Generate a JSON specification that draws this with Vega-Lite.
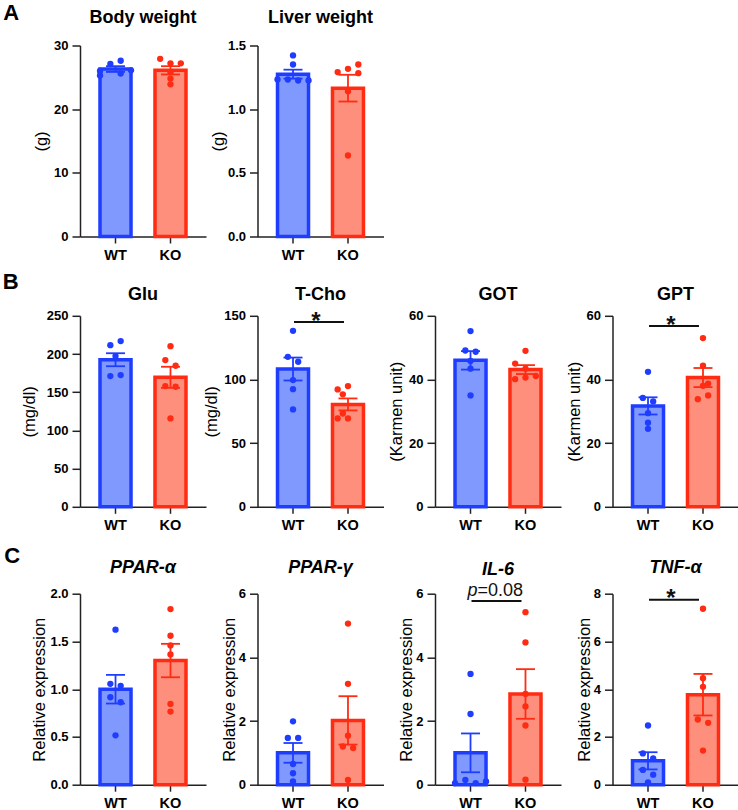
{
"$schema":"https://vega.github.io/schema/vega-lite/v6.json",
"background":"white",
"padding":{"left":2,"top":1.5,"right":0,"bottom":0},
"datasets":{
"sum":[
{"p":"bw","g":"WT","m":26.3,"lo":25.85,"hi":26.75},
{"p":"bw","g":"KO","m":26.1,"lo":25.45,"hi":26.75},
{"p":"lw","g":"WT","m":1.275,"lo":1.24,"hi":1.31},
{"p":"lw","g":"KO","m":1.165,"lo":1.06,"hi":1.27},
{"p":"glu","g":"WT","m":192.5,"lo":184,"hi":201},
{"p":"glu","g":"KO","m":169.5,"lo":155.7,"hi":183.3},
{"p":"tcho","g":"WT","m":108.2,"lo":99.2,"hi":117.2},
{"p":"tcho","g":"KO","m":80.4,"lo":75.7,"hi":85.1},
{"p":"got","g":"WT","m":46.0,"lo":43.1,"hi":48.9},
{"p":"got","g":"KO","m":43.1,"lo":41.7,"hi":44.5},
{"p":"gpt","g":"WT","m":31.7,"lo":29.0,"hi":34.4},
{"p":"gpt","g":"KO","m":40.6,"lo":37.6,"hi":43.6},
{"p":"ppara","g":"WT","m":1.0,"lo":0.85,"hi":1.15},
{"p":"ppara","g":"KO","m":1.3,"lo":1.125,"hi":1.475},
{"p":"pparg","g":"WT","m":1.0,"lo":0.69,"hi":1.31},
{"p":"pparg","g":"KO","m":2.02,"lo":1.26,"hi":2.78},
{"p":"il6","g":"WT","m":1.0,"lo":0.39,"hi":1.61},
{"p":"il6","g":"KO","m":2.85,"lo":2.07,"hi":3.63},
{"p":"tnf","g":"WT","m":1.0,"lo":0.64,"hi":1.36},
{"p":"tnf","g":"KO","m":3.77,"lo":2.9,"hi":4.64}
],
"pts":[
{"p":"bw","g":"WT","v":26.0,"l":-3},{"p":"bw","g":"WT","v":25.3,"l":-3},{"p":"bw","g":"WT","v":27.1,"l":-1},{"p":"bw","g":"WT","v":27.6,"l":1},{"p":"bw","g":"WT","v":25.6,"l":1},{"p":"bw","g":"WT","v":26.1,"l":3},
{"p":"bw","g":"KO","v":27.9,"l":-2},{"p":"bw","g":"KO","v":27.2,"l":0},{"p":"bw","g":"KO","v":27.2,"l":2},{"p":"bw","g":"KO","v":25.8,"l":0},{"p":"bw","g":"KO","v":24.8,"l":0},{"p":"bw","g":"KO","v":23.9,"l":0},
{"p":"lw","g":"WT","v":1.422,"l":0},{"p":"lw","g":"WT","v":1.351,"l":0},{"p":"lw","g":"WT","v":1.233,"l":-3},{"p":"lw","g":"WT","v":1.233,"l":-1},{"p":"lw","g":"WT","v":1.225,"l":1},{"p":"lw","g":"WT","v":1.225,"l":3},
{"p":"lw","g":"KO","v":1.291,"l":-2},{"p":"lw","g":"KO","v":1.317,"l":0},{"p":"lw","g":"KO","v":1.283,"l":2},{"p":"lw","g":"KO","v":1.351,"l":2},{"p":"lw","g":"KO","v":1.141,"l":0},{"p":"lw","g":"KO","v":0.636,"l":0},
{"p":"glu","g":"WT","v":211.6,"l":-1},{"p":"glu","g":"WT","v":216.9,"l":1},{"p":"glu","g":"WT","v":197.3,"l":0},{"p":"glu","g":"WT","v":171.1,"l":-1},{"p":"glu","g":"WT","v":172.4,"l":1},
{"p":"glu","g":"KO","v":210.3,"l":0},{"p":"glu","g":"KO","v":192.0,"l":-1},{"p":"glu","g":"KO","v":184.6,"l":1},{"p":"glu","g":"KO","v":158.0,"l":-1},{"p":"glu","g":"KO","v":157.1,"l":1},{"p":"glu","g":"KO","v":115.7,"l":0},
{"p":"tcho","g":"WT","v":138.2,"l":0},{"p":"tcho","g":"WT","v":117.8,"l":-1},{"p":"tcho","g":"WT","v":113.9,"l":1},{"p":"tcho","g":"WT","v":99.5,"l":0},{"p":"tcho","g":"WT","v":92.4,"l":0},{"p":"tcho","g":"WT","v":76.5,"l":0},
{"p":"tcho","g":"KO","v":92.2,"l":-2},{"p":"tcho","g":"KO","v":94.8,"l":0},{"p":"tcho","g":"KO","v":88.3,"l":-1},{"p":"tcho","g":"KO","v":69.4,"l":-2},{"p":"tcho","g":"KO","v":69.4,"l":0},{"p":"tcho","g":"KO","v":73.3,"l":-1},
{"p":"got","g":"WT","v":55.2,"l":0},{"p":"got","g":"WT","v":49.1,"l":-1},{"p":"got","g":"WT","v":48.7,"l":1},{"p":"got","g":"WT","v":45.8,"l":0},{"p":"got","g":"WT","v":43.4,"l":0},{"p":"got","g":"WT","v":35.0,"l":0},
{"p":"got","g":"KO","v":49.0,"l":0},{"p":"got","g":"KO","v":45.0,"l":-2},{"p":"got","g":"KO","v":43.4,"l":0},{"p":"got","g":"KO","v":40.1,"l":-2},{"p":"got","g":"KO","v":40.6,"l":0},{"p":"got","g":"KO","v":41.1,"l":2},
{"p":"gpt","g":"WT","v":42.4,"l":0},{"p":"gpt","g":"WT","v":34.2,"l":-1},{"p":"gpt","g":"WT","v":33.1,"l":1},{"p":"gpt","g":"WT","v":29.4,"l":0},{"p":"gpt","g":"WT","v":26.4,"l":0},{"p":"gpt","g":"WT","v":24.5,"l":0},
{"p":"gpt","g":"KO","v":53.0,"l":0},{"p":"gpt","g":"KO","v":44.3,"l":0},{"p":"gpt","g":"KO","v":38.7,"l":1},{"p":"gpt","g":"KO","v":35.0,"l":1},{"p":"gpt","g":"KO","v":33.8,"l":-1},{"p":"gpt","g":"KO","v":38.0,"l":0},
{"p":"ppara","g":"WT","v":1.623,"l":0},{"p":"ppara","g":"WT","v":1.056,"l":-1},{"p":"ppara","g":"WT","v":1.035,"l":1},{"p":"ppara","g":"WT","v":0.916,"l":-1},{"p":"ppara","g":"WT","v":0.863,"l":1},{"p":"ppara","g":"WT","v":0.517,"l":0},
{"p":"ppara","g":"KO","v":1.839,"l":0},{"p":"ppara","g":"KO","v":1.56,"l":0},{"p":"ppara","g":"KO","v":1.458,"l":0},{"p":"ppara","g":"KO","v":1.364,"l":0},{"p":"ppara","g":"KO","v":0.846,"l":0},{"p":"ppara","g":"KO","v":0.766,"l":0},
{"p":"pparg","g":"WT","v":1.99,"l":0},{"p":"pparg","g":"WT","v":1.47,"l":-1},{"p":"pparg","g":"WT","v":1.47,"l":1},{"p":"pparg","g":"WT","v":0.65,"l":0},{"p":"pparg","g":"WT","v":0.36,"l":0},{"p":"pparg","g":"WT","v":0.105,"l":0},
{"p":"pparg","g":"KO","v":5.06,"l":0},{"p":"pparg","g":"KO","v":3.17,"l":0},{"p":"pparg","g":"KO","v":1.54,"l":0},{"p":"pparg","g":"KO","v":1.2,"l":-1},{"p":"pparg","g":"KO","v":1.15,"l":1},{"p":"pparg","g":"KO","v":0.147,"l":0},
{"p":"il6","g":"WT","v":3.48,"l":0},{"p":"il6","g":"WT","v":2.22,"l":0},{"p":"il6","g":"WT","v":0.05,"l":-3},{"p":"il6","g":"WT","v":0.15,"l":-1},{"p":"il6","g":"WT","v":0.05,"l":1},{"p":"il6","g":"WT","v":0.1,"l":3},
{"p":"il6","g":"KO","v":5.42,"l":0},{"p":"il6","g":"KO","v":4.47,"l":0},{"p":"il6","g":"KO","v":2.85,"l":0},{"p":"il6","g":"KO","v":2.46,"l":0},{"p":"il6","g":"KO","v":1.86,"l":0},{"p":"il6","g":"KO","v":0.157,"l":0},
{"p":"tnf","g":"WT","v":2.48,"l":0},{"p":"tnf","g":"WT","v":1.31,"l":-1},{"p":"tnf","g":"WT","v":1.1,"l":1},{"p":"tnf","g":"WT","v":0.62,"l":-1},{"p":"tnf","g":"WT","v":0.42,"l":1},{"p":"tnf","g":"WT","v":0.1,"l":0},
{"p":"tnf","g":"KO","v":7.37,"l":0},{"p":"tnf","g":"KO","v":4.46,"l":0},{"p":"tnf","g":"KO","v":4.1,"l":0},{"p":"tnf","g":"KO","v":2.73,"l":-1},{"p":"tnf","g":"KO","v":2.59,"l":1},{"p":"tnf","g":"KO","v":1.43,"l":0}
],
"sig":[
{"p":"tcho","a":"WT","b":"KO","y":145.1,"t":"*"},
{"p":"gpt","a":"WT","b":"KO","y":56.8,"t":"*"},
{"p":"tnf","a":"WT","b":"KO","y":7.75,"t":"*"},
{"p":"il6","a":"WT","b":"KO","y":5.77,"t":"=0.08"}
]
},
"spacing":9.3,
"resolve":{"scale":{"x":"independent","y":"independent"}},
"vconcat":[
{"hconcat":[
{"width":126,"height":191,"title":{"text":"Body weight","offset":13},
"resolve":{"scale":{"xOffset":"independent"}},
"encoding":{"x":{"field":"g","type":"nominal","title":null,"scale":{"domain":["WT","KO"],"paddingInner":0.436,"paddingOuter":0.364},"axis":{"labelAngle":0}},"color":{"field":"g","type":"nominal","scale":{"domain":["WT","KO"],"range":["#1f3dff","#ff2b12"]},"legend":null}},
"layer":[
{"data":{"name":"sum"},"transform":[{"filter":"datum.p==='bw'"}],"mark":{"type":"bar","strokeWidth":3.5,"strokeJoin":"miter","opacity":1},"encoding":{"y":{"field":"m","type":"quantitative","title":"(g)","scale":{"domain":[0,30],"nice":false},"axis":{"values":[0,10,20,30],"labelOverlap":false}},"fill":{"field":"g","type":"nominal","scale":{"domain":["WT","KO"],"range":["#8099ff","#ff8f7d"]},"legend":null},"stroke":{"field":"g","type":"nominal","scale":{"domain":["WT","KO"],"range":["#1f3dff","#ff2b12"]},"legend":null}}},
{"data":{"name":"sum"},"transform":[{"filter":"datum.p==='bw'"}],"mark":{"type":"rule","strokeWidth":1.8},"encoding":{"y":{"field":"lo","type":"quantitative","title":"(g)"},"y2":{"field":"hi"}}},
{"data":{"name":"sum"},"transform":[{"filter":"datum.p==='bw'"}],"mark":{"type":"tick","size":19,"thickness":1.8,"opacity":1},"encoding":{"y":{"field":"lo","type":"quantitative","title":"(g)"}}},
{"data":{"name":"sum"},"transform":[{"filter":"datum.p==='bw'"}],"mark":{"type":"tick","size":19,"thickness":1.8,"opacity":1},"encoding":{"y":{"field":"hi","type":"quantitative","title":"(g)"}}},
{"data":{"name":"pts"},"transform":[{"filter":"datum.p==='bw'"}],"mark":{"type":"point","filled":true,"size":40,"opacity":1},"encoding":{"xOffset":{"field":"l","type":"quantitative","scale":{"domain":[-3,3]}},"y":{"field":"v","type":"quantitative","title":"(g)"}}}
]},
{"width":126,"height":191,"title":{"text":"Liver weight","offset":13},
"resolve":{"scale":{"xOffset":"independent"}},
"encoding":{"x":{"field":"g","type":"nominal","title":null,"scale":{"domain":["WT","KO"],"paddingInner":0.436,"paddingOuter":0.364},"axis":{"labelAngle":0}},"color":{"field":"g","type":"nominal","scale":{"domain":["WT","KO"],"range":["#1f3dff","#ff2b12"]},"legend":null}},
"layer":[
{"data":{"name":"sum"},"transform":[{"filter":"datum.p==='lw'"}],"mark":{"type":"bar","strokeWidth":3.5,"strokeJoin":"miter","opacity":1},"encoding":{"y":{"field":"m","type":"quantitative","title":"(g)","scale":{"domain":[0,1.5],"nice":false},"axis":{"values":[0,0.5,1,1.5],"format":".1f","titlePadding":0.7,"labelOverlap":false}},"fill":{"field":"g","type":"nominal","scale":{"domain":["WT","KO"],"range":["#8099ff","#ff8f7d"]},"legend":null},"stroke":{"field":"g","type":"nominal","scale":{"domain":["WT","KO"],"range":["#1f3dff","#ff2b12"]},"legend":null}}},
{"data":{"name":"sum"},"transform":[{"filter":"datum.p==='lw'"}],"mark":{"type":"rule","strokeWidth":1.8},"encoding":{"y":{"field":"lo","type":"quantitative","title":"(g)"},"y2":{"field":"hi"}}},
{"data":{"name":"sum"},"transform":[{"filter":"datum.p==='lw'"}],"mark":{"type":"tick","size":19,"thickness":1.8,"opacity":1},"encoding":{"y":{"field":"lo","type":"quantitative","title":"(g)"}}},
{"data":{"name":"sum"},"transform":[{"filter":"datum.p==='lw'"}],"mark":{"type":"tick","size":19,"thickness":1.8,"opacity":1},"encoding":{"y":{"field":"hi","type":"quantitative","title":"(g)"}}},
{"data":{"name":"pts"},"transform":[{"filter":"datum.p==='lw'"}],"mark":{"type":"point","filled":true,"size":40,"opacity":1},"encoding":{"xOffset":{"field":"l","type":"quantitative","scale":{"domain":[-3,3]}},"y":{"field":"v","type":"quantitative","title":"(g)"}}}
]}
],
"spacing":51.5,"bounds":"flush",
"resolve":{"scale":{"x":"independent","y":"independent"}},
"title":{"text":"A","anchor":"start","frame":"group","offset":-16.5,"dx":-76.8,"fontSize":22}
},
{"vconcat":[
{"hconcat":[
{"width":126,"height":191,"title":{"text":"Glu","offset":5.5},
"resolve":{"scale":{"xOffset":"independent"}},
"encoding":{"x":{"field":"g","type":"nominal","title":null,"scale":{"domain":["WT","KO"],"paddingInner":0.436,"paddingOuter":0.364},"axis":{"labelAngle":0}},"color":{"field":"g","type":"nominal","scale":{"domain":["WT","KO"],"range":["#1f3dff","#ff2b12"]},"legend":null}},
"layer":[
{"data":{"name":"sum"},"transform":[{"filter":"datum.p==='glu'"}],"mark":{"type":"bar","strokeWidth":3.5,"strokeJoin":"miter","opacity":1},"encoding":{"y":{"field":"m","type":"quantitative","title":"(mg/dl)","scale":{"domain":[0,250],"nice":false},"axis":{"values":[0,50,100,150,200,250],"tickCount":6,"titlePadding":8.5,"labelOverlap":false,"labelSeparation":-100}},"fill":{"field":"g","type":"nominal","scale":{"domain":["WT","KO"],"range":["#8099ff","#ff8f7d"]},"legend":null},"stroke":{"field":"g","type":"nominal","scale":{"domain":["WT","KO"],"range":["#1f3dff","#ff2b12"]},"legend":null}}},
{"data":{"name":"sum"},"transform":[{"filter":"datum.p==='glu'"}],"mark":{"type":"rule","strokeWidth":1.8},"encoding":{"y":{"field":"lo","type":"quantitative","title":"(mg/dl)"},"y2":{"field":"hi"}}},
{"data":{"name":"sum"},"transform":[{"filter":"datum.p==='glu'"}],"mark":{"type":"tick","size":19,"thickness":1.8,"opacity":1},"encoding":{"y":{"field":"lo","type":"quantitative","title":"(mg/dl)"}}},
{"data":{"name":"sum"},"transform":[{"filter":"datum.p==='glu'"}],"mark":{"type":"tick","size":19,"thickness":1.8,"opacity":1},"encoding":{"y":{"field":"hi","type":"quantitative","title":"(mg/dl)"}}},
{"data":{"name":"pts"},"transform":[{"filter":"datum.p==='glu'"}],"mark":{"type":"point","filled":true,"size":40,"opacity":1},"encoding":{"xOffset":{"field":"l","type":"quantitative","scale":{"domain":[-3,3]}},"y":{"field":"v","type":"quantitative","title":"(mg/dl)"}}}
]},
{"width":126,"height":191,"title":{"text":"T-Cho","offset":5.5},
"resolve":{"scale":{"xOffset":"independent"}},
"encoding":{"x":{"field":"g","type":"nominal","title":null,"scale":{"domain":["WT","KO"],"paddingInner":0.436,"paddingOuter":0.364},"axis":{"labelAngle":0}},"color":{"field":"g","type":"nominal","scale":{"domain":["WT","KO"],"range":["#1f3dff","#ff2b12"]},"legend":null}},
"layer":[
{"data":{"name":"sum"},"transform":[{"filter":"datum.p==='tcho'"}],"mark":{"type":"bar","strokeWidth":3.5,"strokeJoin":"miter","opacity":1},"encoding":{"y":{"field":"m","type":"quantitative","title":"(mg/dl)","scale":{"domain":[0,150],"nice":false},"axis":{"values":[0,50,100,150],"labelOverlap":false}},"fill":{"field":"g","type":"nominal","scale":{"domain":["WT","KO"],"range":["#8099ff","#ff8f7d"]},"legend":null},"stroke":{"field":"g","type":"nominal","scale":{"domain":["WT","KO"],"range":["#1f3dff","#ff2b12"]},"legend":null}}},
{"data":{"name":"sum"},"transform":[{"filter":"datum.p==='tcho'"}],"mark":{"type":"rule","strokeWidth":1.8},"encoding":{"y":{"field":"lo","type":"quantitative","title":"(mg/dl)"},"y2":{"field":"hi"}}},
{"data":{"name":"sum"},"transform":[{"filter":"datum.p==='tcho'"}],"mark":{"type":"tick","size":19,"thickness":1.8,"opacity":1},"encoding":{"y":{"field":"lo","type":"quantitative","title":"(mg/dl)"}}},
{"data":{"name":"sum"},"transform":[{"filter":"datum.p==='tcho'"}],"mark":{"type":"tick","size":19,"thickness":1.8,"opacity":1},"encoding":{"y":{"field":"hi","type":"quantitative","title":"(mg/dl)"}}},
{"data":{"name":"pts"},"transform":[{"filter":"datum.p==='tcho'"}],"mark":{"type":"point","filled":true,"size":40,"opacity":1},"encoding":{"xOffset":{"field":"l","type":"quantitative","scale":{"domain":[-3,3]}},"y":{"field":"v","type":"quantitative","title":"(mg/dl)"}}},
{"data":{"name":"sig"},"transform":[{"filter":"datum.p==='tcho'"}],"mark":{"type":"rule","strokeWidth":2,"xOffset":1,"x2Offset":-4},"encoding":{"x":{"field":"a","type":"nominal","title":null},"x2":{"field":"b"},"y":{"field":"y","type":"quantitative","title":"(mg/dl)"},"color":{"value":"#111111"}}},
{"data":{"name":"sig"},"transform":[{"filter":"datum.p==='tcho'"}],"mark":{"type":"text","fontSize":24,"fontWeight":"bold","dx":23,"dy":6.7,"baseline":"alphabetic","align":"center"},"encoding":{"x":{"field":"a","type":"nominal","title":null},"y":{"field":"y","type":"quantitative","title":"(mg/dl)"},"text":{"field":"t"},"color":{"value":"#111111"}}}
]},
{"width":126,"height":191,"title":{"text":"GOT","offset":5.5},
"resolve":{"scale":{"xOffset":"independent"}},
"encoding":{"x":{"field":"g","type":"nominal","title":null,"scale":{"domain":["WT","KO"],"paddingInner":0.436,"paddingOuter":0.364},"axis":{"labelAngle":0}},"color":{"field":"g","type":"nominal","scale":{"domain":["WT","KO"],"range":["#1f3dff","#ff2b12"]},"legend":null}},
"layer":[
{"data":{"name":"sum"},"transform":[{"filter":"datum.p==='got'"}],"mark":{"type":"bar","strokeWidth":3.5,"strokeJoin":"miter","opacity":1},"encoding":{"y":{"field":"m","type":"quantitative","title":"(Karmen unit)","scale":{"domain":[0,60],"nice":false},"axis":{"values":[0,20,40,60],"labelOverlap":false}},"fill":{"field":"g","type":"nominal","scale":{"domain":["WT","KO"],"range":["#8099ff","#ff8f7d"]},"legend":null},"stroke":{"field":"g","type":"nominal","scale":{"domain":["WT","KO"],"range":["#1f3dff","#ff2b12"]},"legend":null}}},
{"data":{"name":"sum"},"transform":[{"filter":"datum.p==='got'"}],"mark":{"type":"rule","strokeWidth":1.8},"encoding":{"y":{"field":"lo","type":"quantitative","title":"(Karmen unit)"},"y2":{"field":"hi"}}},
{"data":{"name":"sum"},"transform":[{"filter":"datum.p==='got'"}],"mark":{"type":"tick","size":19,"thickness":1.8,"opacity":1},"encoding":{"y":{"field":"lo","type":"quantitative","title":"(Karmen unit)"}}},
{"data":{"name":"sum"},"transform":[{"filter":"datum.p==='got'"}],"mark":{"type":"tick","size":19,"thickness":1.8,"opacity":1},"encoding":{"y":{"field":"hi","type":"quantitative","title":"(Karmen unit)"}}},
{"data":{"name":"pts"},"transform":[{"filter":"datum.p==='got'"}],"mark":{"type":"point","filled":true,"size":40,"opacity":1},"encoding":{"xOffset":{"field":"l","type":"quantitative","scale":{"domain":[-3,3]}},"y":{"field":"v","type":"quantitative","title":"(Karmen unit)"}}}
]},
{"width":126,"height":191,"title":{"text":"GPT","offset":5.5},
"resolve":{"scale":{"xOffset":"independent"}},
"encoding":{"x":{"field":"g","type":"nominal","title":null,"scale":{"domain":["WT","KO"],"paddingInner":0.436,"paddingOuter":0.364},"axis":{"labelAngle":0}},"color":{"field":"g","type":"nominal","scale":{"domain":["WT","KO"],"range":["#1f3dff","#ff2b12"]},"legend":null}},
"layer":[
{"data":{"name":"sum"},"transform":[{"filter":"datum.p==='gpt'"}],"mark":{"type":"bar","strokeWidth":3.5,"strokeJoin":"miter","opacity":1},"encoding":{"y":{"field":"m","type":"quantitative","title":"(Karmen unit)","scale":{"domain":[0,60],"nice":false},"axis":{"values":[0,20,40,60],"labelOverlap":false}},"fill":{"field":"g","type":"nominal","scale":{"domain":["WT","KO"],"range":["#8099ff","#ff8f7d"]},"legend":null},"stroke":{"field":"g","type":"nominal","scale":{"domain":["WT","KO"],"range":["#1f3dff","#ff2b12"]},"legend":null}}},
{"data":{"name":"sum"},"transform":[{"filter":"datum.p==='gpt'"}],"mark":{"type":"rule","strokeWidth":1.8},"encoding":{"y":{"field":"lo","type":"quantitative","title":"(Karmen unit)"},"y2":{"field":"hi"}}},
{"data":{"name":"sum"},"transform":[{"filter":"datum.p==='gpt'"}],"mark":{"type":"tick","size":19,"thickness":1.8,"opacity":1},"encoding":{"y":{"field":"lo","type":"quantitative","title":"(Karmen unit)"}}},
{"data":{"name":"sum"},"transform":[{"filter":"datum.p==='gpt'"}],"mark":{"type":"tick","size":19,"thickness":1.8,"opacity":1},"encoding":{"y":{"field":"hi","type":"quantitative","title":"(Karmen unit)"}}},
{"data":{"name":"pts"},"transform":[{"filter":"datum.p==='gpt'"}],"mark":{"type":"point","filled":true,"size":40,"opacity":1},"encoding":{"xOffset":{"field":"l","type":"quantitative","scale":{"domain":[-3,3]}},"y":{"field":"v","type":"quantitative","title":"(Karmen unit)"}}},
{"data":{"name":"sig"},"transform":[{"filter":"datum.p==='gpt'"}],"mark":{"type":"rule","strokeWidth":2,"xOffset":1,"x2Offset":-4},"encoding":{"x":{"field":"a","type":"nominal","title":null},"x2":{"field":"b"},"y":{"field":"y","type":"quantitative","title":"(Karmen unit)"},"color":{"value":"#111111"}}},
{"data":{"name":"sig"},"transform":[{"filter":"datum.p==='gpt'"}],"mark":{"type":"text","fontSize":24,"fontWeight":"bold","dx":23,"dy":6.7,"baseline":"alphabetic","align":"center"},"encoding":{"x":{"field":"a","type":"nominal","title":null},"y":{"field":"y","type":"quantitative","title":"(Karmen unit)"},"text":{"field":"t"},"color":{"value":"#111111"}}}
]}
],
"spacing":51.5,"bounds":"flush",
"resolve":{"scale":{"x":"independent","y":"independent"}},
"title":{"text":"B","anchor":"start","frame":"group","offset":-8,"dx":-77.3,"fontSize":22}
},
{"hconcat":[
{"width":126,"height":191,"title":{"text":"PPAR-α","offset":10.5,"fontStyle":"italic"},
"resolve":{"scale":{"xOffset":"independent"}},
"encoding":{"x":{"field":"g","type":"nominal","title":null,"scale":{"domain":["WT","KO"],"paddingInner":0.436,"paddingOuter":0.364},"axis":{"labelAngle":0}},"color":{"field":"g","type":"nominal","scale":{"domain":["WT","KO"],"range":["#1f3dff","#ff2b12"]},"legend":null}},
"layer":[
{"data":{"name":"sum"},"transform":[{"filter":"datum.p==='ppara'"}],"mark":{"type":"bar","strokeWidth":3.5,"strokeJoin":"miter","opacity":1},"encoding":{"y":{"field":"m","type":"quantitative","title":"Relative expression","scale":{"domain":[0,2],"nice":false},"axis":{"values":[0,0.5,1,1.5,2],"format":".1f","titlePadding":2,"labelOverlap":false}},"fill":{"field":"g","type":"nominal","scale":{"domain":["WT","KO"],"range":["#8099ff","#ff8f7d"]},"legend":null},"stroke":{"field":"g","type":"nominal","scale":{"domain":["WT","KO"],"range":["#1f3dff","#ff2b12"]},"legend":null}}},
{"data":{"name":"sum"},"transform":[{"filter":"datum.p==='ppara'"}],"mark":{"type":"rule","strokeWidth":1.8},"encoding":{"y":{"field":"lo","type":"quantitative","title":"Relative expression"},"y2":{"field":"hi"}}},
{"data":{"name":"sum"},"transform":[{"filter":"datum.p==='ppara'"}],"mark":{"type":"tick","size":19,"thickness":1.8,"opacity":1},"encoding":{"y":{"field":"lo","type":"quantitative","title":"Relative expression"}}},
{"data":{"name":"sum"},"transform":[{"filter":"datum.p==='ppara'"}],"mark":{"type":"tick","size":19,"thickness":1.8,"opacity":1},"encoding":{"y":{"field":"hi","type":"quantitative","title":"Relative expression"}}},
{"data":{"name":"pts"},"transform":[{"filter":"datum.p==='ppara'"}],"mark":{"type":"point","filled":true,"size":40,"opacity":1},"encoding":{"xOffset":{"field":"l","type":"quantitative","scale":{"domain":[-3,3]}},"y":{"field":"v","type":"quantitative","title":"Relative expression"}}}
]},
{"width":126,"height":191,"title":{"text":"PPAR-γ","offset":10.5,"fontStyle":"italic"},
"resolve":{"scale":{"xOffset":"independent"}},
"encoding":{"x":{"field":"g","type":"nominal","title":null,"scale":{"domain":["WT","KO"],"paddingInner":0.436,"paddingOuter":0.364},"axis":{"labelAngle":0}},"color":{"field":"g","type":"nominal","scale":{"domain":["WT","KO"],"range":["#1f3dff","#ff2b12"]},"legend":null}},
"layer":[
{"data":{"name":"sum"},"transform":[{"filter":"datum.p==='pparg'"}],"mark":{"type":"bar","strokeWidth":3.5,"strokeJoin":"miter","opacity":1},"encoding":{"y":{"field":"m","type":"quantitative","title":"Relative expression","scale":{"domain":[0,6],"nice":false},"axis":{"values":[0,2,4,6],"titlePadding":1,"labelOverlap":false}},"fill":{"field":"g","type":"nominal","scale":{"domain":["WT","KO"],"range":["#8099ff","#ff8f7d"]},"legend":null},"stroke":{"field":"g","type":"nominal","scale":{"domain":["WT","KO"],"range":["#1f3dff","#ff2b12"]},"legend":null}}},
{"data":{"name":"sum"},"transform":[{"filter":"datum.p==='pparg'"}],"mark":{"type":"rule","strokeWidth":1.8},"encoding":{"y":{"field":"lo","type":"quantitative","title":"Relative expression"},"y2":{"field":"hi"}}},
{"data":{"name":"sum"},"transform":[{"filter":"datum.p==='pparg'"}],"mark":{"type":"tick","size":19,"thickness":1.8,"opacity":1},"encoding":{"y":{"field":"lo","type":"quantitative","title":"Relative expression"}}},
{"data":{"name":"sum"},"transform":[{"filter":"datum.p==='pparg'"}],"mark":{"type":"tick","size":19,"thickness":1.8,"opacity":1},"encoding":{"y":{"field":"hi","type":"quantitative","title":"Relative expression"}}},
{"data":{"name":"pts"},"transform":[{"filter":"datum.p==='pparg'"}],"mark":{"type":"point","filled":true,"size":40,"opacity":1},"encoding":{"xOffset":{"field":"l","type":"quantitative","scale":{"domain":[-3,3]}},"y":{"field":"v","type":"quantitative","title":"Relative expression"}}}
]},
{"width":126,"height":191,"title":{"text":"IL-6","offset":3.5,"fontStyle":"italic"},
"resolve":{"scale":{"xOffset":"independent"}},
"encoding":{"x":{"field":"g","type":"nominal","title":null,"scale":{"domain":["WT","KO"],"paddingInner":0.436,"paddingOuter":0.364},"axis":{"labelAngle":0}},"color":{"field":"g","type":"nominal","scale":{"domain":["WT","KO"],"range":["#1f3dff","#ff2b12"]},"legend":null}},
"layer":[
{"data":{"name":"sum"},"transform":[{"filter":"datum.p==='il6'"}],"mark":{"type":"bar","strokeWidth":3.5,"strokeJoin":"miter","opacity":1},"encoding":{"y":{"field":"m","type":"quantitative","title":"Relative expression","scale":{"domain":[0,6],"nice":false},"axis":{"values":[0,2,4,6],"titlePadding":1,"labelOverlap":false}},"fill":{"field":"g","type":"nominal","scale":{"domain":["WT","KO"],"range":["#8099ff","#ff8f7d"]},"legend":null},"stroke":{"field":"g","type":"nominal","scale":{"domain":["WT","KO"],"range":["#1f3dff","#ff2b12"]},"legend":null}}},
{"data":{"name":"sum"},"transform":[{"filter":"datum.p==='il6'"}],"mark":{"type":"rule","strokeWidth":1.8},"encoding":{"y":{"field":"lo","type":"quantitative","title":"Relative expression"},"y2":{"field":"hi"}}},
{"data":{"name":"sum"},"transform":[{"filter":"datum.p==='il6'"}],"mark":{"type":"tick","size":19,"thickness":1.8,"opacity":1},"encoding":{"y":{"field":"lo","type":"quantitative","title":"Relative expression"}}},
{"data":{"name":"sum"},"transform":[{"filter":"datum.p==='il6'"}],"mark":{"type":"tick","size":19,"thickness":1.8,"opacity":1},"encoding":{"y":{"field":"hi","type":"quantitative","title":"Relative expression"}}},
{"data":{"name":"pts"},"transform":[{"filter":"datum.p==='il6'"}],"mark":{"type":"point","filled":true,"size":40,"opacity":1},"encoding":{"xOffset":{"field":"l","type":"quantitative","scale":{"domain":[-3,3]}},"y":{"field":"v","type":"quantitative","title":"Relative expression"}}},
{"data":{"name":"sig"},"transform":[{"filter":"datum.p==='il6'"}],"mark":{"type":"rule","strokeWidth":2,"xOffset":1,"x2Offset":-4},"encoding":{"x":{"field":"a","type":"nominal","title":null},"x2":{"field":"b"},"y":{"field":"y","type":"quantitative","title":"Relative expression"},"color":{"value":"#111111"}}},
{"data":{"name":"sig"},"transform":[{"filter":"datum.p==='il6'"}],"mark":{"type":"text","fontSize":18,"fontStyle":"italic","dx":7,"dy":-4.7,"baseline":"alphabetic","align":"right"},"encoding":{"x":{"field":"a","type":"nominal","title":null},"y":{"field":"y","type":"quantitative","title":"Relative expression"},"text":{"value":"p"},"color":{"value":"#111111"}}},
{"data":{"name":"sig"},"transform":[{"filter":"datum.p==='il6'"}],"mark":{"type":"text","fontSize":18,"dx":7,"dy":-4.7,"baseline":"alphabetic","align":"left"},"encoding":{"x":{"field":"a","type":"nominal","title":null},"y":{"field":"y","type":"quantitative","title":"Relative expression"},"text":{"field":"t"},"color":{"value":"#111111"}}}
]},
{"width":126,"height":191,"title":{"text":"TNF-α","offset":10.5,"fontStyle":"italic"},
"resolve":{"scale":{"xOffset":"independent"}},
"encoding":{"x":{"field":"g","type":"nominal","title":null,"scale":{"domain":["WT","KO"],"paddingInner":0.436,"paddingOuter":0.364},"axis":{"labelAngle":0}},"color":{"field":"g","type":"nominal","scale":{"domain":["WT","KO"],"range":["#1f3dff","#ff2b12"]},"legend":null}},
"layer":[
{"data":{"name":"sum"},"transform":[{"filter":"datum.p==='tnf'"}],"mark":{"type":"bar","strokeWidth":3.5,"strokeJoin":"miter","opacity":1},"encoding":{"y":{"field":"m","type":"quantitative","title":"Relative expression","scale":{"domain":[0,8],"nice":false},"axis":{"values":[0,2,4,6,8],"titlePadding":1,"labelOverlap":false}},"fill":{"field":"g","type":"nominal","scale":{"domain":["WT","KO"],"range":["#8099ff","#ff8f7d"]},"legend":null},"stroke":{"field":"g","type":"nominal","scale":{"domain":["WT","KO"],"range":["#1f3dff","#ff2b12"]},"legend":null}}},
{"data":{"name":"sum"},"transform":[{"filter":"datum.p==='tnf'"}],"mark":{"type":"rule","strokeWidth":1.8},"encoding":{"y":{"field":"lo","type":"quantitative","title":"Relative expression"},"y2":{"field":"hi"}}},
{"data":{"name":"sum"},"transform":[{"filter":"datum.p==='tnf'"}],"mark":{"type":"tick","size":19,"thickness":1.8,"opacity":1},"encoding":{"y":{"field":"lo","type":"quantitative","title":"Relative expression"}}},
{"data":{"name":"sum"},"transform":[{"filter":"datum.p==='tnf'"}],"mark":{"type":"tick","size":19,"thickness":1.8,"opacity":1},"encoding":{"y":{"field":"hi","type":"quantitative","title":"Relative expression"}}},
{"data":{"name":"pts"},"transform":[{"filter":"datum.p==='tnf'"}],"mark":{"type":"point","filled":true,"size":40,"opacity":1},"encoding":{"xOffset":{"field":"l","type":"quantitative","scale":{"domain":[-3,3]}},"y":{"field":"v","type":"quantitative","title":"Relative expression"}}},
{"data":{"name":"sig"},"transform":[{"filter":"datum.p==='tnf'"}],"mark":{"type":"rule","strokeWidth":2,"xOffset":1,"x2Offset":-4},"encoding":{"x":{"field":"a","type":"nominal","title":null},"x2":{"field":"b"},"y":{"field":"y","type":"quantitative","title":"Relative expression"},"color":{"value":"#111111"}}},
{"data":{"name":"sig"},"transform":[{"filter":"datum.p==='tnf'"}],"mark":{"type":"text","fontSize":24,"fontWeight":"bold","dx":23,"dy":6.7,"baseline":"alphabetic","align":"center"},"encoding":{"x":{"field":"a","type":"nominal","title":null},"y":{"field":"y","type":"quantitative","title":"Relative expression"},"text":{"field":"t"},"color":{"value":"#111111"}}}
]}
],
"spacing":51.5,"bounds":"flush",
"resolve":{"scale":{"x":"independent","y":"independent"}},
"title":{"text":"C","anchor":"start","frame":"group","offset":-9,"dx":-75.8,"fontSize":22}
}
],
"spacing":12.9,
"resolve":{"scale":{"x":"independent","y":"independent"}}
}
],
"config":{
"font":"Liberation Sans",
"view":{"stroke":null},
"axis":{"grid":false,"domainColor":"#222222","tickColor":"#222222","domainWidth":1.5,"tickWidth":1.5,"labelFont":"Liberation Sans","labelFontWeight":"bold","labelColor":"#000000","titleFont":"Liberation Sans","titleFontWeight":"normal","titleColor":"#000000","labelOverlap":false},
"axisX":{"labelFontSize":14.5,"tickSize":6.5,"labelPadding":5},
"axisY":{"labelFontSize":13,"tickSize":8,"labelPadding":4,"titleFontSize":16.5,"titlePadding":4,"minExtent":0,"labelSeparation":-100},
"title":{"font":"Liberation Sans","fontSize":18,"fontWeight":"bold","color":"#000000","frame":"group","baseline":"alphabetic","anchor":"middle"}
}
}
